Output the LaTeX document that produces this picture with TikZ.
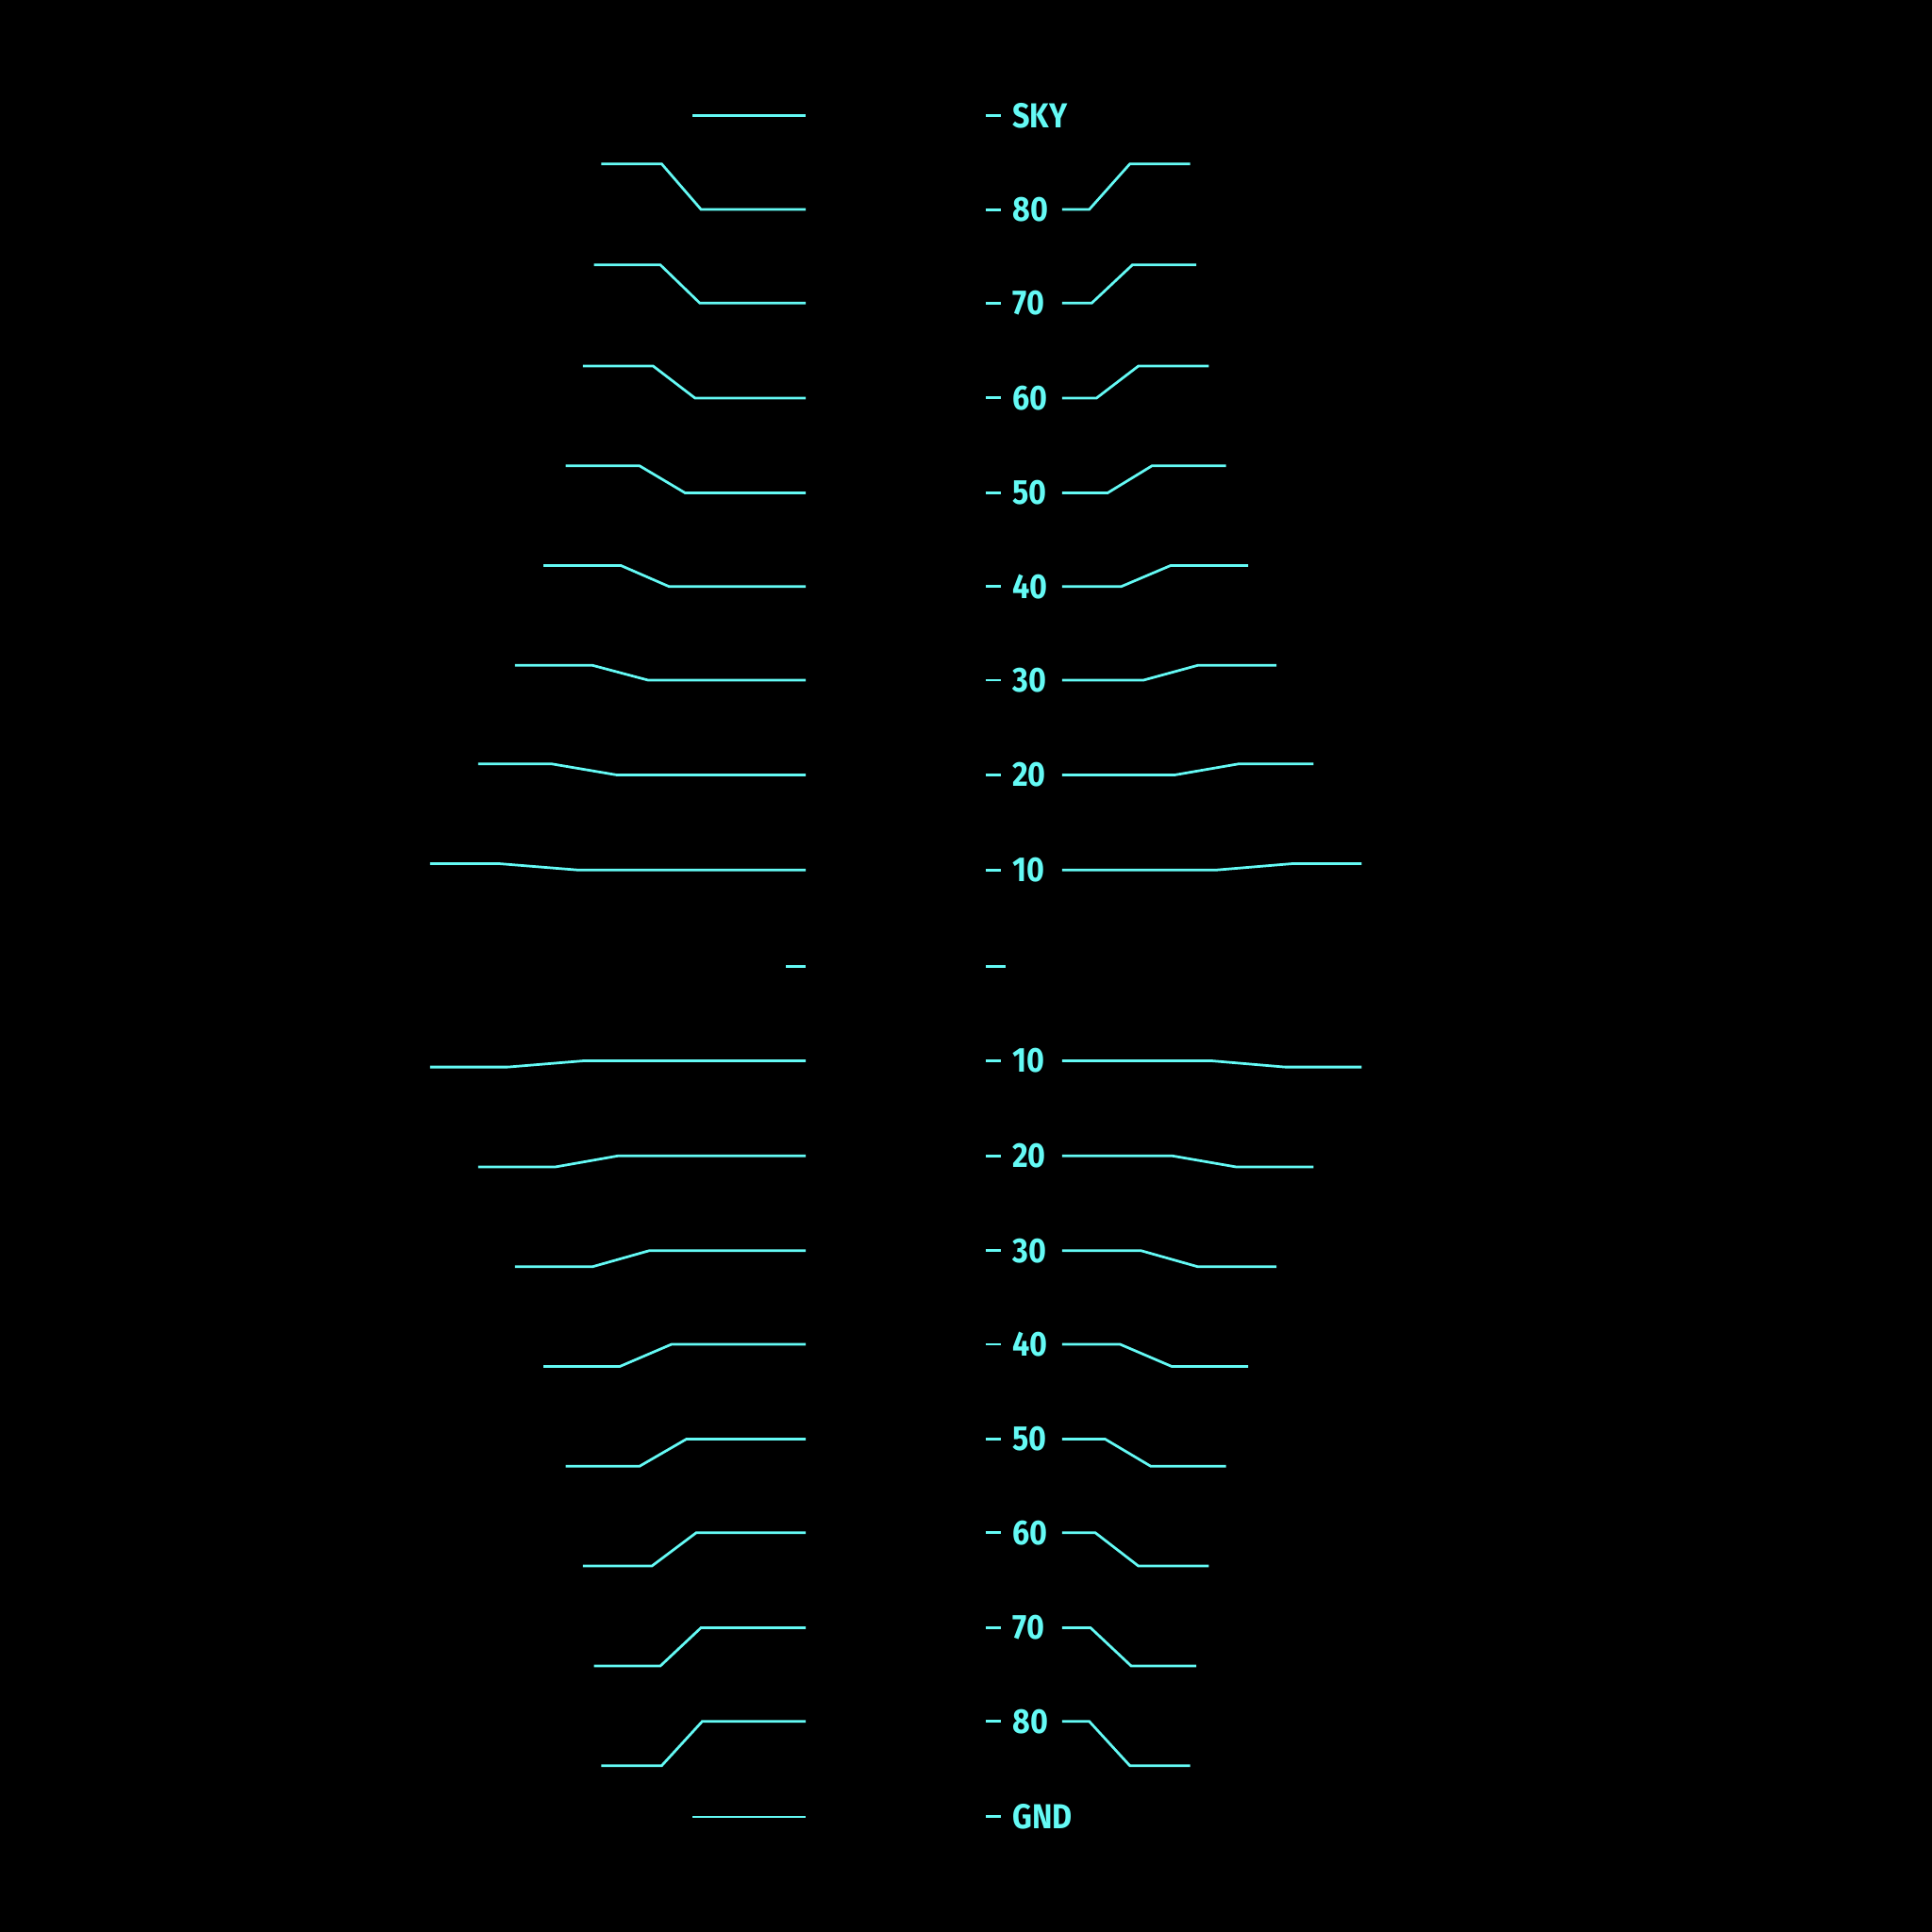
\documentclass[tikz,border=0pt]{standalone}
\usepackage{fontspec}
\setmainfont{Fira Sans}
\newfontfamily\hudfont[FakeStretch=0.88]{Fira Sans}
\definecolor{hud}{RGB}{100,250,245}
\begin{document}
\begin{tikzpicture}[x=0.01cm, y=-0.01cm,
    rung/.style={draw=hud, line width=0.6pt},
    tickmark/.style={draw=hud, line width=0.65pt},
    lbl/.style={anchor=west, inner sep=0pt, text=hud,
        font=\hudfont\bfseries\fontsize{8}{9}\selectfont}]
    % 1. Background
    \fill[black] (0,0) rectangle (1568,1568);
    \useasboundingbox (0,0) rectangle (1568,1568);

    % 2. Sky and ground rungs
    \draw[rung] (562,93.6) -- (654,93.6);
    \draw[tickmark] (800,93.6) -- (812,93.6);
    \node[lbl] (sky) at (821,93.6) {SKY};
    \draw[rung] (562,1474.5) -- (654,1474.5);
    \draw[tickmark] (800,1474.5) -- (812,1474.5);
    \node[lbl] (gnd) at (821,1474.5) {GND};

    % 3. Horizon marks
    \draw[tickmark] (638,784) -- (654,784);
    \draw[tickmark] (800,784) -- (816,784);

    % 4. Pitch rungs (row y / bent y / left x / right x / label)
    \foreach \y/\yy/\la/\lb/\lc/\ra/\rb/\rc/\t [count=\i] in {
        170/133/488/537/569/884/917/966/80,
        246/215/482/536/568/886/919/971/70,
        323/297/473/530/564/890/924/981/60,
        400/378/459/519/556/899/935/995/50,
        476/459/441/504/543/910/950/1013/40,
        552/540/418/481/526/928/972/1036/30,
        629/620/388/448/501/953/1005/1066/20,
        706/701/349/406/468/988/1048/1105/10,
        861/866/349/412/473/984/1043/1105/10,
        938/947/388/451/502/951/1003/1066/20,
        1015/1028/418/481/527/926/972/1036/30,
        1091/1109/441/503/545/909/951/1013/40,
        1168/1190/459/519/557/897/934/995/50,
        1244/1271/473/529/565/889/924/981/60,
        1321/1352/482/536/569/885/918/971/70,
        1397/1433/488/537/570/884/917/966/80} {
        \draw[rung] (\la,\yy) -- (\lb,\yy) -- (\lc,\y) -- (654,\y);
        \draw[rung] (862,\y) -- (\ra,\y) -- (\rb,\yy) -- (\rc,\yy);
        \draw[tickmark] (800,\y) -- (812,\y);
        \node[lbl] (deg\i) at (821,\y) {\t};
    }
\end{tikzpicture}
\end{document}
